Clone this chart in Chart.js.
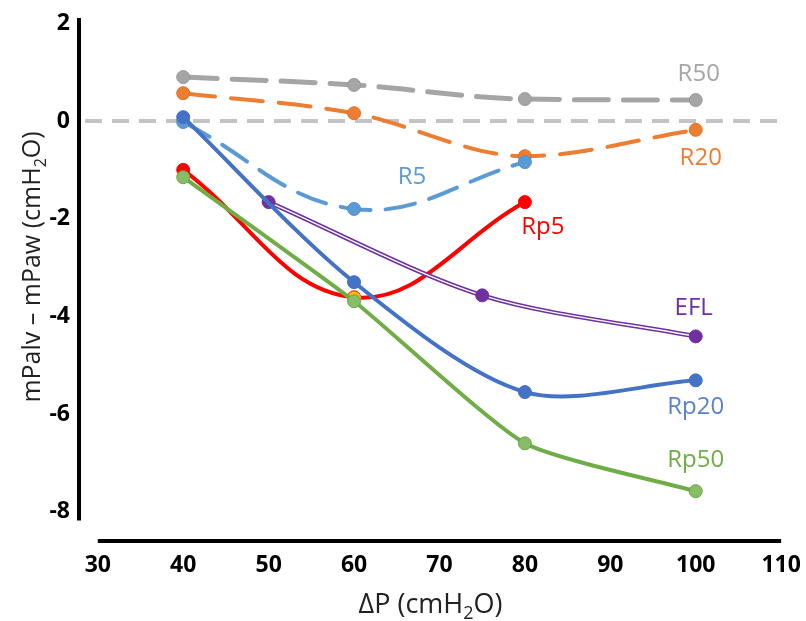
<!DOCTYPE html>
<html>
<head>
<meta charset="utf-8">
<script src="https://cdn.jsdelivr.net/npm/chart.js@4/dist/chart.umd.min.js"></script>
<style>
  html, body { margin: 0; padding: 0; background: #fff; }
  #wrap { width: 806px; height: 621px; }
</style>
</head>
<body>
<div id="wrap"><canvas id="chart"></canvas></div>
<script>
// data
const xTicks = [30, 40, 50, 60, 70, 80, 90, 100, 110];
const yTicks = [-8, -6, -4, -2, 0, 2];

const pX4 = [40, 60, 80, 100];
const pX3 = [40, 60, 80];
const eflX = [50, 75, 100];

const r50 = [0.90, 0.74, 0.45, 0.43];
const r20 = [0.57, 0.16, -0.72, -0.18];
const r5 = [-0.02, -1.80, -0.84];
const rp5 = [-1.00, -3.61, -1.66];
const rp20 = [0.08, -3.30, -5.55, -5.31];
const rp50 = [-1.15, -3.69, -6.60, -7.58];
const efl = [-1.66, -3.57, -4.41];

// half-hidden yellow marker under Rp50 at 60
const hidX = [60];
const hidY = [-3.63];

const zeroX = [28.5, 109.7];
const zeroY = [0, 0];

const FONT = "'Open Sans', sans-serif";

function pts(xs, ys) {
    return xs.map((x, i) => ({ x: x, y: ys[i] }));
}

function series(label, xs, ys, color, opts) {
    return Object.assign({
        label: label,
        data: pts(xs, ys),
        showLine: true,
        borderColor: color,
        backgroundColor: color,
        pointBackgroundColor: color,
        pointBorderColor: color,
        borderWidth: 4,
        pointRadius: 6.5,
        pointBorderWidth: 1,
        tension: 0.4,
        borderCapStyle: 'round'
    }, opts || {});
}

const datasets = [
    series('zero', zeroX, zeroY, '#c4c4c4', { borderDash: [17, 10], pointRadius: 0, tension: 0, borderCapStyle: 'butt', order: 20 }),
    series('R50', pX4, r50, '#a5a5a5', { borderDash: [34, 15], borderWidth: 5, cubicInterpolationMode: 'monotone', pointBorderColor: '#999', order: 10 }),
    series('R20', pX4, r20, '#ed7d31', { borderDash: [32, 16], cubicInterpolationMode: 'monotone', pointBorderColor: '#d9712c', order: 9 }),
    series('R5', pX3, r5, '#5b9bd5', { borderDash: [30, 15], pointBorderColor: '#5290c8', order: 8 }),
    series('Rp5', pX3, rp5, '#ff0000', { order: 7 }),
    series('EFL', eflX, efl, '#7030a0', { borderWidth: 4.5, pointRadius: 0, tension: 0.3, order: 6 }),
    series('EFL inner', eflX, efl, '#ffffff', { borderWidth: 1.4, pointRadius: 0, tension: 0.3, order: 5 }),
    series('EFL pts', eflX, efl, '#7030a0', { showLine: false, order: 4 }),
    series('Rp20', pX4, rp20, '#4472c4', { tension: 0.3, order: 3 }),
    series('hidden', hidX, hidY, '#ffc000', { showLine: false, order: 2.5 }),
    series('Rp50', pX4, rp50, '#70ad47', { tension: 0.18, pointBackgroundColor: '#86bd66', pointBorderColor: '#6aa544', order: 2 })
];

// series labels, anchored on one point of a dataset
const seriesLabels = [
    { ds: 1, pt: 3, dx: 3, dy: -26, text: 'R50', color: '#a5a5a5' },
    { ds: 2, pt: 3, dx: 5, dy: 28, text: 'R20', color: '#ed7d31' },
    { ds: 3, pt: 1, dx: 58, dy: -32, text: 'R5', color: '#5b9bd5' },
    { ds: 4, pt: 2, dx: 18, dy: 25, text: 'Rp5', color: '#ff0000' },
    { ds: 7, pt: 2, dx: -2, dy: -28, text: 'EFL', color: '#7030a0' },
    { ds: 8, pt: 3, dx: 0, dy: 27, text: 'Rp20', color: '#5b82d0' },
    { ds: 10, pt: 3, dx: 0, dy: -31, text: 'Rp50', color: '#70ad47' }
];

// text with a subscript part: [[text, isSub], ...]
function drawParts(ctx, parts, size) {
    const big = size + "px " + FONT;
    const small = Math.round(size * 0.65) + "px " + FONT;
    let total = 0;
    parts.forEach(p => { ctx.font = p[1] ? small : big; total += ctx.measureText(p[0]).width; });
    let x = -total / 2;
    parts.forEach(p => {
        ctx.font = p[1] ? small : big;
        ctx.fillText(p[0], x, p[1] ? size * 0.22 : 0);
        x += ctx.measureText(p[0]).width;
    });
}

const decorPlugin = {
    id: 'decor',
    afterDraw(chart) {
        const ctx = chart.ctx;
        const xs = chart.scales.x;
        const ys = chart.scales.y;
        const area = chart.chartArea;
        ctx.save();
        // axis lines
        ctx.strokeStyle = '#000';
        ctx.lineWidth = 4;
        ctx.beginPath();
        ctx.moveTo(area.left, area.top);
        ctx.lineTo(area.left, ys.getPixelForValue(-8.18));
        ctx.stroke();
        ctx.beginPath();
        ctx.moveTo(xs.getPixelForValue(30), area.bottom);
        ctx.lineTo(xs.getPixelForValue(110), area.bottom);
        ctx.stroke();

        // series labels
        ctx.textAlign = 'center';
        ctx.textBaseline = 'middle';
        ctx.font = "24px " + FONT;
        seriesLabels.forEach(l => {
            const p = chart.getDatasetMeta(l.ds).data[l.pt];
            ctx.fillStyle = l.color;
            ctx.fillText(l.text, p.x + l.dx, p.y + l.dy);
        });

        // axis titles
        ctx.fillStyle = '#222';
        ctx.textAlign = 'left';
        ctx.textBaseline = 'alphabetic';
        ctx.save();
        ctx.translate((area.left + area.right) / 2, 613);
        drawParts(ctx, [['\u0394P (cmH', false], ['2', true], ['O)', false]], 27);
        ctx.restore();

        ctx.save();
        ctx.translate(40, 267);
        ctx.rotate(-Math.PI / 2);
        drawParts(ctx, [['mPalv \u2013 mPaw (cmH', false], ['2', true], ['O)', false]], 25);
        ctx.restore();
        ctx.restore();
    }
};

new Chart(document.getElementById('chart'), {
    type: 'scatter',
    data: { datasets: datasets },
    options: {
        responsive: true,
        maintainAspectRatio: false,
        animation: false,
        layout: { padding: { left: 0, top: 18, right: 24, bottom: 0 } },
        plugins: {
            legend: { display: false },
            tooltip: { enabled: false }
        },
        scales: {
            x: {
                type: 'linear',
                min: 27.8,
                max: 110.1,
                grid: { display: false, drawTicks: false },
                border: { display: false },
                afterBuildTicks: s => { s.ticks = xTicks.map(v => ({ value: v })); },
                afterFit: s => { s.height = 80; s.paddingLeft = 0; s.paddingRight = 0; },
                ticks: {
                    color: '#000',
                    padding: 11,
                    maxRotation: 0,
                    autoSkip: false,
                    font: { family: FONT, size: 23, weight: 'bold' }
                }
            },
            y: {
                type: 'linear',
                min: -8.6,
                max: 2.11,
                grid: { display: false, drawTicks: false },
                border: { display: false },
                afterBuildTicks: s => { s.ticks = yTicks.map(v => ({ value: v })); },
                afterFit: s => { s.width = 79; s.paddingTop = 0; s.paddingBottom = 0; },
                ticks: {
                    color: '#000',
                    padding: 9,
                    autoSkip: false,
                    font: { family: FONT, size: 23, weight: 'bold' }
                }
            }
        }
    },
    plugins: [decorPlugin]
});
</script>
</body>
</html>
